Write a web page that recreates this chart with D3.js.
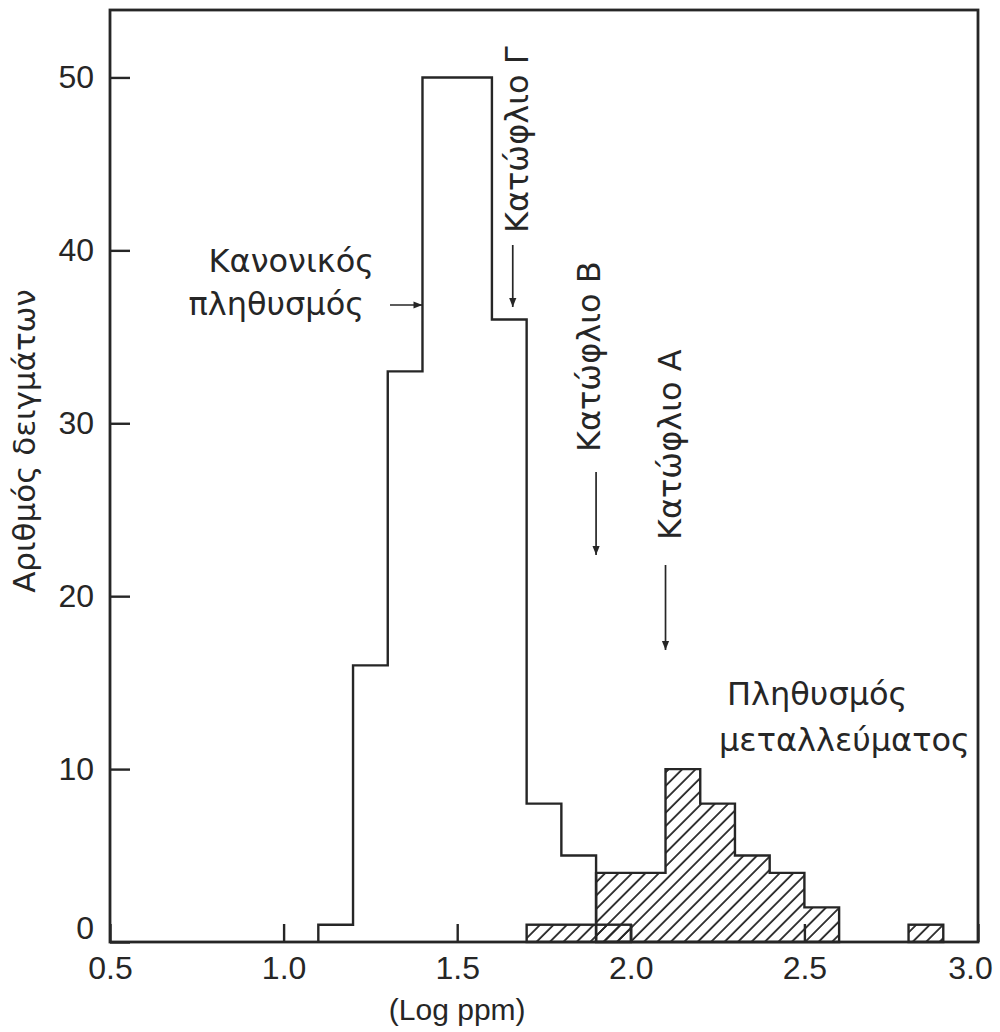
<!DOCTYPE html>
<meta charset="utf-8">
<body style="margin:0;background:#fff">
<div class="chart"></div>
<script src="https://d3js.org/d3.v7.min.js"></script>
<script>
// open histogram (normal population), bins of 0.1 log ppm
const normalStart = [1.1, 1.2, 1.3, 1.4, 1.5, 1.6, 1.7, 1.8];
const normalCount = [1, 16, 33, 50, 50, 36, 8, 5];
// hatched histogram (ore population)
const oreStart = [1.9, 2.0, 2.1, 2.2, 2.3, 2.4, 2.5];
const oreCount = [4, 4, 10, 8, 5, 4, 2];
// loose hatched blocks
const blockFrom = [1.7, 2.8];
const blockTo = [2.0, 2.9];
const blockCount = [1, 1];
// thresholds
const thresholdNames = ["Κατώφλιο Γ", "Κατώφλιο Β", "Κατώφλιο Α"];
const thresholdValues = [1.66, 1.9, 2.1];
const xTicks = [0.5, 1.0, 1.5, 2.0, 2.5, 3.0];
const yTicks = [0, 10, 20, 30, 40, 50];

const width = 1000, height = 1032;
const margin = {top: 10, right: 22, bottom: 90, left: 110};
const w = width - margin.left - margin.right;
const h = height - margin.top - margin.bottom;
const ink = "#262626";
const numFont = "'Liberation Sans', Arial, sans-serif";
const grFont = "'DejaVu Sans', sans-serif";

const x = d3.scaleLinear().domain([0.5, 3.0]).range([0, w]);
const y = d3.scaleLinear().domain([0, 53.9]).range([h, 0]);

const svg = d3.select(".chart").append("svg")
    .attr("width", width).attr("height", height)
    .style("background", "#fff");

const defs = svg.append("defs");
defs.append("pattern")
    .attr("id", "hatch")
    .attr("patternUnits", "userSpaceOnUse")
    .attr("width", 9.5).attr("height", 9.5)
    .attr("patternTransform", "rotate(45)")
    .append("line")
    .attr("x1", 1).attr("y1", 0).attr("x2", 1).attr("y2", 9.5)
    .attr("stroke", ink).attr("stroke-width", 1.8);
defs.append("marker")
    .attr("id", "arrow")
    .attr("viewBox", "0 -5 10 10")
    .attr("refX", 10).attr("refY", 0)
    .attr("markerWidth", 12).attr("markerHeight", 9)
    .attr("markerUnits", "userSpaceOnUse")
    .attr("orient", "auto")
    .append("path")
    .attr("d", "M0,-4L10,0L0,4Z")
    .attr("fill", ink);

const g = svg.append("g").attr("transform", `translate(${margin.left},${margin.top})`);

// axes (ticks inside)
const xAxis = g.append("g")
    .attr("transform", `translate(0,${h})`)
    .call(d3.axisBottom(x).tickValues(xTicks).tickFormat(d3.format(".1f")).tickSize(-18).tickPadding(14));
const yAxis = g.append("g")
    .call(d3.axisLeft(y).tickValues(yTicks).tickSize(-20).tickPadding(16));
[xAxis, yAxis].forEach(a => {
    a.select(".domain").remove();
    a.selectAll("line").attr("stroke", ink).attr("stroke-width", 2.4);
    a.selectAll("text").attr("font-family", numFont).attr("font-size", 32).attr("fill", ink);
});
xAxis.selectAll("text").attr("dy", "0.72em")
    .filter(d => d === 3.0).attr("dx", -8);
yAxis.selectAll("text").filter(d => d === 0).attr("dy", "-0.12em");

function stepPoints(starts, counts, binW) {
    const pts = [[starts[0], 0]];
    starts.forEach((s, i) => { pts.push([s, counts[i]]); pts.push([s + binW, counts[i]]); });
    pts.push([starts[starts.length - 1] + binW, 0]);
    return pts;
}
const line = d3.line().x(d => x(d[0])).y(d => y(d[1]));

// loose hatched blocks
g.append("g").selectAll("rect")
    .data(blockFrom.map((f, i) => ({from: f, to: blockTo[i], n: blockCount[i]})))
    .join("rect")
    .attr("x", d => x(d.from))
    .attr("y", d => y(d.n))
    .attr("width", d => x(d.to) - x(d.from))
    .attr("height", d => y(0) - y(d.n))
    .attr("fill", "url(#hatch)")
    .attr("stroke", ink).attr("stroke-width", 2.4);

// ore population
g.append("path")
    .attr("d", line(stepPoints(oreStart, oreCount, 0.1)) + "Z")
    .attr("fill", "url(#hatch)")
    .attr("stroke", ink).attr("stroke-width", 2.4);

// normal population outline
g.append("path")
    .attr("d", line(stepPoints(normalStart, normalCount, 0.1)))
    .attr("fill", "none")
    .attr("stroke", ink).attr("stroke-width", 2.4);

// frame
g.append("rect")
    .attr("width", w).attr("height", h)
    .attr("fill", "none").attr("stroke", ink).attr("stroke-width", 2.8);

// threshold annotations: [text start y, baseline offset, arrow y1, arrow y2]
const thrLayout = [[223, 15, 235, 297], [442, 4, 462, 545], [530, 15, 555, 640]];
thresholdNames.forEach((name, i) => {
    const ax = x(thresholdValues[i]);
    const [ty, off, a1, a2] = thrLayout[i];
    g.append("text")
        .attr("transform", `translate(${ax + off},${ty}) rotate(-90)`)
        .attr("font-family", grFont).attr("font-size", 32).attr("fill", ink)
        .text(name);
    g.append("line")
        .attr("x1", ax).attr("x2", ax).attr("y1", a1).attr("y2", a2)
        .attr("stroke", ink).attr("stroke-width", 1.7)
        .attr("marker-end", "url(#arrow)");
});

// normal population label
const normTxt = g.append("text")
    .attr("font-family", grFont).attr("font-size", 32).attr("fill", ink)
    .attr("text-anchor", "end");
normTxt.append("tspan").attr("x", 264).attr("y", 262).text("Κανονικός");
normTxt.append("tspan").attr("x", 254).attr("y", 305).text("πληθυσμός");
g.append("line")
    .attr("x1", 280).attr("x2", x(1.4)).attr("y1", 295).attr("y2", 295)
    .attr("stroke", ink).attr("stroke-width", 1.7)
    .attr("marker-end", "url(#arrow)");

// ore population label
const oreTxt = g.append("text")
    .attr("font-family", grFont).attr("font-size", 32).attr("fill", ink);
oreTxt.append("tspan").attr("x", 617).attr("y", 695).text("Πληθυσμός");
oreTxt.append("tspan").attr("x", 609).attr("y", 741).text("μεταλλεύματος");

// axis titles
svg.append("text")
    .attr("x", margin.left + x(1.5)).attr("y", 1020)
    .attr("text-anchor", "middle")
    .attr("font-family", numFont).attr("font-size", 30).attr("fill", ink)
    .text("(Log ppm)");
svg.append("text")
    .attr("transform", `translate(35,441) rotate(-90)`)
    .attr("text-anchor", "middle")
    .attr("font-family", grFont).attr("font-size", 31).attr("fill", ink)
    .text("Αριθμός δειγμάτων");
</script>
